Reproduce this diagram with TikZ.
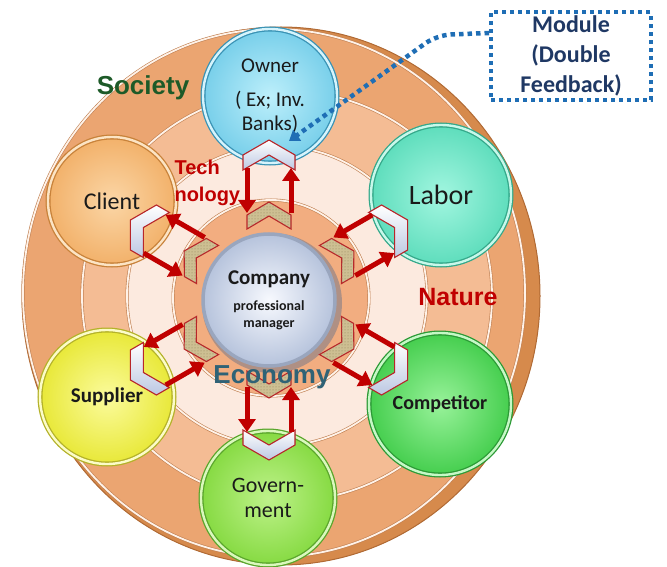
\documentclass[tikz,border=0pt]{standalone}
\usepackage{fontspec}
\setmainfont{Carlito}
\newfontfamily\arialfont{Liberation Sans}
\usepackage{xcolor}
\usetikzlibrary{arrows.meta, patterns}

\definecolor{rimdark}{HTML}{D68A4C}
\definecolor{rimedge}{HTML}{B06A34}
\definecolor{ringedge}{HTML}{C08052}
\definecolor{ringlight}{HTML}{FFF2E8}
\definecolor{societyband}{HTML}{EBA571}
\definecolor{natureband}{HTML}{F4BC94}
\definecolor{creamband}{HTML}{FCEADF}
\definecolor{innerband}{HTML}{F2AD80}
\definecolor{satblack}{HTML}{1A1A1A}
\definecolor{ownerin}{HTML}{BDEFFB}
\definecolor{ownerout}{HTML}{78CFEA}
\definecolor{ownerdark}{HTML}{3A93B5}
\definecolor{ownerlight}{HTML}{D6F4FC}
\definecolor{laborin}{HTML}{A2F6E0}
\definecolor{laborout}{HTML}{5EDDBC}
\definecolor{labordark}{HTML}{34A88A}
\definecolor{laborlight}{HTML}{C8F8EA}
\definecolor{clientin}{HTML}{FBD6A6}
\definecolor{clientout}{HTML}{F2B16A}
\definecolor{clientdark}{HTML}{C8823A}
\definecolor{clientlight}{HTML}{FCE4C4}
\definecolor{supin}{HTML}{FBFB9C}
\definecolor{supout}{HTML}{E8E838}
\definecolor{supdark}{HTML}{B4B22A}
\definecolor{suplight}{HTML}{FCFCC8}
\definecolor{compin}{HTML}{98F29A}
\definecolor{compout}{HTML}{45CE4E}
\definecolor{compdark}{HTML}{2C9A36}
\definecolor{complight}{HTML}{C6F8C6}
\definecolor{govin}{HTML}{BEF28A}
\definecolor{govout}{HTML}{86DA42}
\definecolor{govdark}{HTML}{5AA62C}
\definecolor{govlight}{HTML}{DAF8BC}
\definecolor{firmin}{HTML}{F7F9FE}
\definecolor{firmout}{HTML}{B6C3DC}
\definecolor{firmdark}{HTML}{9AA6BE}
\definecolor{firmshade}{HTML}{6E7488}
\definecolor{chevred}{HTML}{B8262A}
\definecolor{chevblue}{HTML}{BCC8E2}
\definecolor{chevtan}{HTML}{CDBF92}
\definecolor{chevdot}{HTML}{8F8058}
\definecolor{flowred}{HTML}{C00000}
\definecolor{societygreen}{HTML}{1D5A28}
\definecolor{techred}{HTML}{C00000}
\definecolor{econblue}{HTML}{2F6276}
\definecolor{modblue}{HTML}{1F6EB5}
\definecolor{modnavy}{HTML}{1F3864}

\begin{document}
\begin{tikzpicture}[x=1pt, y=-1pt,
    ringline/.style={draw=ringedge, double=ringlight, line width=0.6pt, double distance=1.8pt},
    sat/.style={circle, inner sep=0pt, line width=1.3pt, double distance=2.4pt, text=satblack, align=center},
    area/.style 2 args={font=\arialfont\bfseries\fontsize{#1}{#2}\selectfont},
    chevout/.style={draw=chevred, line width=1.1pt, top color=white, bottom color=chevblue},
    chevin/.style={draw=chevred, line width=1.1pt, fill=chevtan, postaction={pattern=dots, pattern color=chevdot}},
    flow/.style={flowred, line width=5pt, -{Triangle[width=17pt,length=13pt]}},
    modline/.style={modblue, line width=4.5pt, dash pattern=on 4.5pt off 4pt}]
    \useasboundingbox (0,0) rectangle (667,567);

    \fill[rimdark] (281,296) ellipse [x radius=259, y radius=269];
    \draw[rimedge, line width=1pt] (281,296) ellipse [x radius=259, y radius=269];
    \filldraw[fill=societyband, ringline] (274,293) ellipse [x radius=251, y radius=264];
    \filldraw[fill=natureband, ringline] (287,296) circle (205);
    \filldraw[fill=creamband, ringline] (277,296) circle (150);
    \filldraw[fill=innerband, ringline] (271,298) circle (98);

    \node[area={26}{30}, text=societygreen] (society) at (143,88) {Society};
    \node[area={25}{30}, text=techred] (nature) at (458,297) {Nature};

    \node[sat, draw=ownerdark, double=ownerlight, inner color=ownerin, outer color=ownerout,
          minimum size=134pt, font=\fontsize{21}{24}\selectfont] (owner) at (270,96) {Owner\\[10pt]( Ex; Inv.\\Banks)};
    \node[sat, draw=labordark, double=laborlight, inner color=laborin, outer color=laborout,
          minimum size=140pt, font=\fontsize{28}{32}\selectfont] (labor) at (441,195) {Labor};
    \node[sat, draw=clientdark, double=clientlight, inner color=clientin, outer color=clientout,
          minimum size=128pt, font=\fontsize{24}{28}\selectfont] (client) at (112,201) {Client};
    \node[sat, draw=supdark, double=suplight, inner color=supin, outer color=supout,
          minimum size=134pt, font=\bfseries\fontsize{21}{24}\selectfont] (supplier) at (107,397) {Supplier};
    \node[sat, draw=compdark, double=complight, inner color=compin, outer color=compout,
          minimum size=142pt, font=\bfseries\fontsize{20}{24}\selectfont] (competitor) at (440,404) {Competitor};
    \node[sat, draw=govdark, double=govlight, inner color=govin, outer color=govout,
          minimum size=134pt, font=\fontsize{22}{25}\selectfont] (government) at (268,498) {Govern-\\ment};

    \fill[firmshade, opacity=0.5] (272,303) circle (70);
    \node[circle, inner sep=0pt, minimum size=132pt, draw=firmdark, line width=3.5pt,
          inner color=firmin, outer color=firmout, align=center, text=satblack, font=\bfseries\fontsize{14}{17}\selectfont]
          (company) at (269,300) {{\fontsize{21}{24}\selectfont Company}\\[9pt]professional\\manager};

    \foreach \ang/\nm in {90/own, 30/lab, -30/com, -90/gov, 210/sup, 150/cli} {
      \begin{scope}[shift={(company.center)}, rotate=\ang]
        \filldraw[chevout] (160,0) -- (145,26) -- (130,26) -- (145,0) -- (130,-26) -- (145,-26) -- cycle;
        \filldraw[chevin] (98,0) -- (85,22) -- (71,22) -- (84,0) -- (71,-22) -- (85,-22) -- cycle;
        \coordinate (\nm-i1) at (132,-22);
        \coordinate (\nm-i2) at (87,-22);
        \coordinate (\nm-o1) at (87,22);
        \coordinate (\nm-o2) at (132,22);
        \draw[flow] (\nm-i1) -- (\nm-i2);
        \draw[flow] (\nm-o1) -- (\nm-o2);
      \end{scope}
    }

    \node[area={20}{27}, text=techred, anchor=west, align=left] (tech) at (171,183) {Tech\\nology};
    \node[area={26}{30}, text=econblue] (economy) at (272,377) {Economy};

    \node[draw=modblue, line width=4pt, dash pattern=on 4pt off 4pt, minimum width=160pt,
          minimum height=82pt, align=center, text=modnavy, font=\bfseries\fontsize{24}{30}\selectfont]
          (module) at (571,56) {Module\\(Double\\Feedback)};
    \coordinate (modtip) at (289,141);
    \draw[modline, -{Triangle[width=13pt,length=10pt]}, rounded corners=14pt]
          ([yshift=23pt]module.west) -- (437,35) -- (modtip);
\end{tikzpicture}
\end{document}
